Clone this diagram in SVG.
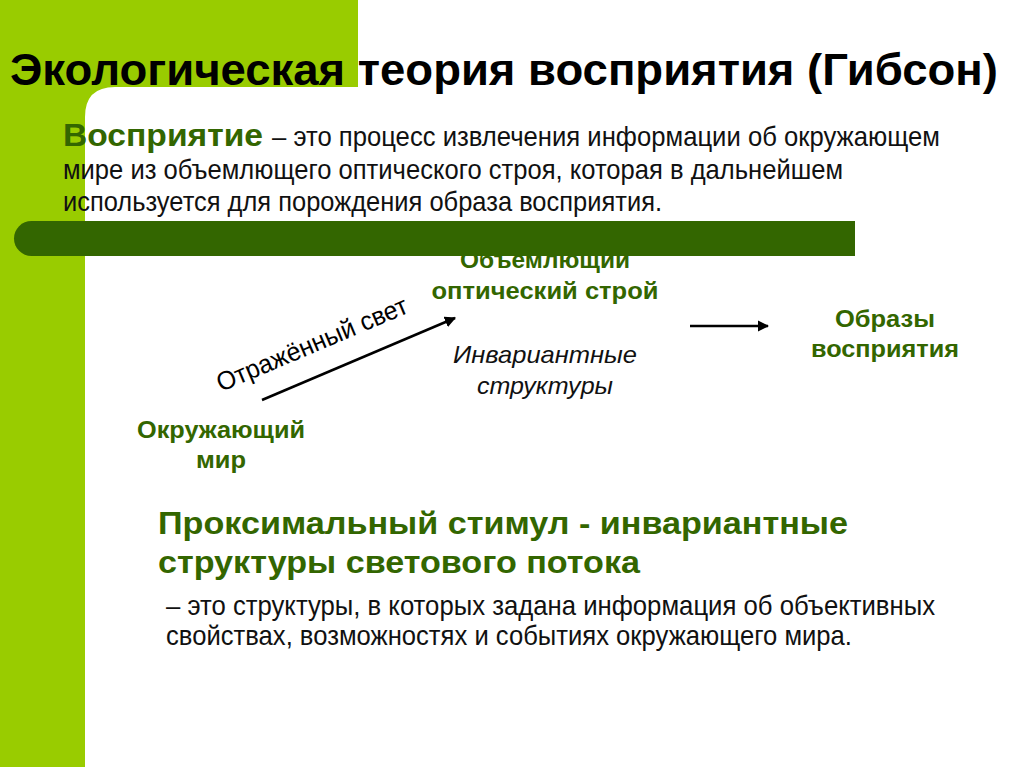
<svg xmlns="http://www.w3.org/2000/svg" width="1024" height="767" viewBox="0 0 1024 767">
  <defs>
    <style>
      .title { font-family: "Liberation Sans", Arial, sans-serif; font-weight: bold; font-size: 45px; fill: #000; }
      .body { font-family: "Liberation Sans", Arial, sans-serif; font-size: 28px; fill: #111; }
      .term { font-family: "Liberation Sans", Arial, sans-serif; font-weight: bold; font-size: 31px; fill: #336600; }
      .lbl { font-family: "Liberation Sans", Arial, sans-serif; font-weight: bold; font-size: 23px; fill: #336600; text-anchor: middle; }
      .ital { font-family: "Liberation Sans", Arial, sans-serif; font-style: italic; font-size: 24px; fill: #111; text-anchor: middle; }
      .edge { font-family: "Liberation Sans", Arial, sans-serif; font-size: 26px; fill: #000; }
      .head { font-family: "Liberation Sans", Arial, sans-serif; font-weight: bold; font-size: 32px; fill: #336600; }
      .conn { stroke: #000; stroke-width: 2.5; fill: none; }
    </style>
    <marker id="arrow" viewBox="0 0 10 10" refX="9" refY="5" markerWidth="4.5" markerHeight="4.5" orient="auto" markerUnits="strokeWidth">
      <path d="M0,0 L10,5 L0,10 z" fill="#000"/>
    </marker>
  </defs>

  <!-- background -->
  <rect x="0" y="0" width="1024" height="767" fill="#fff"/>
  <rect x="0" y="0" width="358" height="120" fill="#99cc00"/>
  <rect x="0" y="0" width="85" height="767" fill="#99cc00"/>
  <path d="M85,767 L85,117 Q85,87 115,87 L358,87 L358,120 L1024,120 L1024,767 Z" fill="#fff"/>

  <g id="title">
    <text class="title" x="10" y="85" textLength="988" lengthAdjust="spacingAndGlyphs">Экологическая теория восприятия (Гибсон)</text>
  </g>

  <g id="definition">
    <text class="term" x="63" y="146" textLength="200" lengthAdjust="spacingAndGlyphs">Восприятие</text>
    <text class="body" x="272" y="146" textLength="668" lengthAdjust="spacingAndGlyphs">– это процесс извлечения информации об окружающем</text>
    <text class="body" x="63" y="179" textLength="780" lengthAdjust="spacingAndGlyphs">мире из объемлющего оптического строя, которая в дальнейшем</text>
    <text class="body" x="63" y="211" textLength="599" lengthAdjust="spacingAndGlyphs">используется для порождения образа восприятия.</text>
  </g>

  <g id="node-optic">
    <text class="lbl" x="545" y="268" textLength="170" lengthAdjust="spacingAndGlyphs">Объемлющий</text>
    <text class="lbl" x="545" y="299" textLength="227" lengthAdjust="spacingAndGlyphs">оптический строй</text>
  </g>

  <!-- dark bar drawn over the top of the first label -->
  <g id="bar">
    <path d="M31.5,221 L855,221 L855,256 L31.5,256 A17.5,17.5 0 0 1 31.5,221 Z" fill="#336600"/>
  </g>

  <g id="node-invariant">
    <text class="ital" x="545" y="363" textLength="184" lengthAdjust="spacingAndGlyphs">Инвариантные</text>
    <text class="ital" x="545" y="394" textLength="136" lengthAdjust="spacingAndGlyphs">структуры</text>
  </g>

  <g id="node-images">
    <text class="lbl" x="885" y="327" textLength="100" lengthAdjust="spacingAndGlyphs">Образы</text>
    <text class="lbl" x="885" y="357" textLength="148" lengthAdjust="spacingAndGlyphs">восприятия</text>
  </g>

  <g id="node-world">
    <text class="lbl" x="221" y="438" textLength="168" lengthAdjust="spacingAndGlyphs">Окружающий</text>
    <text class="lbl" x="221" y="468" textLength="50" lengthAdjust="spacingAndGlyphs">мир</text>
  </g>

  <g id="connectors">
    <line class="conn" x1="262" y1="400" x2="455" y2="318" marker-end="url(#arrow)"/>
    <text class="edge" x="221" y="392" transform="rotate(-22.9 221 392)" textLength="205" lengthAdjust="spacingAndGlyphs">Отражённый свет</text>
    <line class="conn" x1="690" y1="326" x2="768" y2="326" marker-end="url(#arrow)"/>
  </g>

  <g id="proximal">
    <text class="head" x="158" y="534" textLength="690" lengthAdjust="spacingAndGlyphs">Проксимальный стимул - инвариантные</text>
    <text class="head" x="158" y="573" textLength="482" lengthAdjust="spacingAndGlyphs">структуры светового потока</text>
    <text class="body" x="166" y="615" textLength="769" lengthAdjust="spacingAndGlyphs">– это структуры, в которых задана информация об объективных</text>
    <text class="body" x="166" y="645" textLength="686" lengthAdjust="spacingAndGlyphs">свойствах, возможностях и событиях окружающего мира.</text>
  </g>
</svg>
